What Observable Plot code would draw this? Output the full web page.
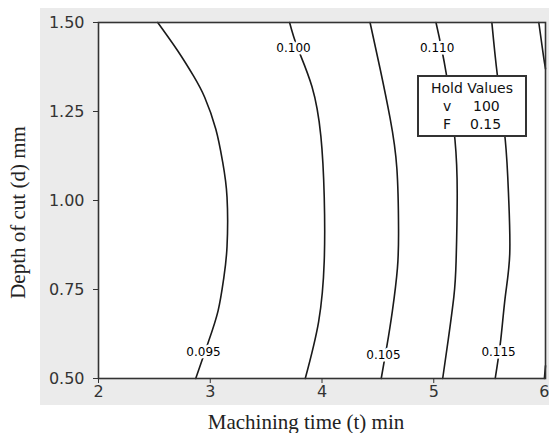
<!DOCTYPE html>
<html>
<head>
<meta charset="utf-8">
<script src="https://cdn.jsdelivr.net/npm/d3@7"></script>
<script src="https://cdn.jsdelivr.net/npm/@observablehq/plot@0.6"></script>
<style>
  html, body { margin: 0; padding: 0; background: white; }
  #wrap { position: relative; width: 549px; height: 433px; }
  #panel { position: absolute; left: 40px; top: 8px; width: 509px; height: 397px; background: #ebebeb; }
  #chart { position: absolute; left: 0; top: 0; }
  #hold { position: absolute; left: 417px; top: 75px; width: 106px; height: 58px;
    border: 2px solid #333; background: white; font-family: "DejaVu Sans", sans-serif;
    font-size: 14px; color: #111; line-height: 18px; }
  #hold .t { text-align: center; margin-top: 2px; }
  #hold .r { position: relative; height: 18px; }
  #hold .r span { position: absolute; }
</style>
</head>
<body>
<div id="wrap">
  <div id="panel"></div>
  <div id="chart"></div>
  <div id="hold">
    <div class="t">Hold Values</div>
    <div class="r"><span style="left:24px">v</span><span style="left:54px">100</span></div>
    <div class="r"><span style="left:24px">F</span><span style="left:51px">0.15</span></div>
  </div>
</div>
<script>
// Axis ticks
const xTicks = [2, 3, 4, 5];
const xTickLast = [6];
const yTicks = [0.5, 0.75, 1.0, 1.25, 1.5];

// Contour lines: [t (min), d (mm)]
const c095 = [[2.53,1.50],[2.71,1.42],[2.85,1.35],[2.95,1.29],[3.05,1.20],[3.11,1.11],[3.15,1.01],[3.15,0.87],[3.12,0.78],[3.07,0.69],[2.98,0.60],[2.87,0.50]];
const c100 = [[3.71,1.50],[3.78,1.43],[3.91,1.32],[3.99,1.18],[4.02,1.01],[4.02,0.83],[3.97,0.66],[3.85,0.50]];
const c105 = [[4.43,1.50],[4.52,1.37],[4.61,1.23],[4.67,1.09],[4.685,0.92],[4.675,0.81],[4.63,0.69],[4.58,0.59],[4.53,0.50]];
const c110 = [[5.02,1.50],[5.11,1.36],[5.19,1.17],[5.21,1.01],[5.20,0.83],[5.18,0.73],[5.13,0.61],[5.08,0.50]];
const c115 = [[5.52,1.50],[5.57,1.35],[5.64,1.17],[5.67,1.01],[5.68,0.85],[5.64,0.73],[5.60,0.61],[5.55,0.50]];
const c120top = [[5.94,1.50],[5.98,1.41],[6.00,1.37]];
const c120bottom = [[6.00,0.536],[5.99,0.50]];

// Contour labels
const labelText = ["0.095", "0.100", "0.105", "0.110", "0.115"];
const labelT = [2.94, 3.745, 4.55, 5.03, 5.58];
const labelD = [0.573, 1.427, 0.565, 1.427, 0.573];

const lines = [c095, c100, c105, c110, c115, c120top, c120bottom];
const lineData = lines.flatMap((pts, i) => pts.map(([t, d]) => ({t, d, id: i})));
const labels = labelText.map((s, i) => ({s, t: labelT[i], d: labelD[i]}));

const chart = Plot.plot({
  width: 549,
  height: 433,
  marginLeft: 98,
  marginRight: 4,
  marginTop: 22,
  marginBottom: 55,
  style: {background: "transparent", fontFamily: "DejaVu Sans, sans-serif", fontSize: "16px", color: "#333"},
  x: {domain: [2, 6]},
  y: {domain: [0.5, 1.5]},
  marks: [
    Plot.frame({fill: "white", stroke: null}),
    Plot.line(lineData, {x: "t", y: "d", z: "id", curve: "natural", stroke: "#1a1a1a", strokeWidth: 1.6}),
    Plot.text(labels, {x: "t", y: "d", text: "s", fontSize: 12, fill: "#000", stroke: "white", strokeWidth: 5, fontFamily: "DejaVu Sans, sans-serif"}),
    Plot.frame({stroke: "#333", strokeWidth: 1.6}),
    Plot.axisX({ticks: xTicks, tickSize: 5, tickPadding: 2, label: null, fontSize: 16, tickFormat: d3.format("d")}),
    Plot.axisX({ticks: xTickLast, tickSize: 5, tickPadding: 2, label: null, fontSize: 16, tickFormat: d3.format("d"), textAnchor: "end", dx: 4}),
    Plot.axisY({ticks: yTicks, tickSize: 5, tickPadding: 9, label: null, fontSize: 16, tickFormat: d3.format(".2f")}),
    Plot.text(["Machining time (t) min"], {frameAnchor: "bottom", dy: 50, dx: -16, textAnchor: "middle", fontSize: 21, fontFamily: "Liberation Serif, serif", fill: "#222"}),
    Plot.text(["Depth of cut (d) mm"], {frameAnchor: "left", dx: -80, dy: 12, textAnchor: "middle", rotate: -90, fontSize: 21, fontFamily: "Liberation Serif, serif", fill: "#222"})
  ]
});
document.getElementById("chart").appendChild(chart);
</script>
</body>
</html>
